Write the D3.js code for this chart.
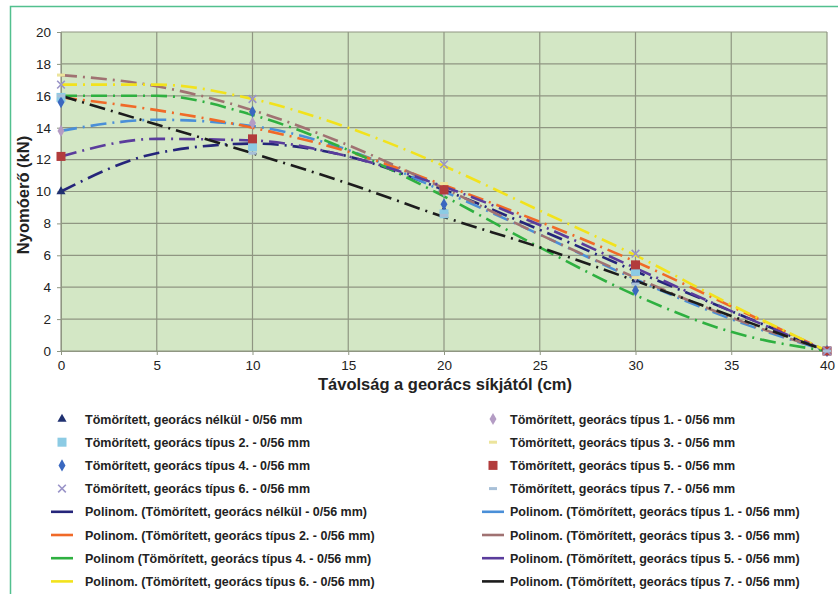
<!DOCTYPE html>
<html>
<head>
<meta charset="utf-8">
<script src="https://cdn.jsdelivr.net/npm/d3@7"></script>
<style>
  body { margin: 0; background: #fff; }
  svg text { font-family: "Liberation Sans", Arial, sans-serif; fill: #222; }
</style>
</head>
<body>
<div id="container"></div>
<script>
// measured points (every 10 cm)
const xPoints = [0, 10, 20, 30, 40]
const pNelkul = [10.0, 13.0, 8.8, 4.4, 0]
const pT1 = [13.8, 14.3, 10.0, 4.7, 0]
const pT2 = [15.9, 12.8, 8.6, 5.0, 0]
const pT3 = [17.3, 15.0, 10.5, 4.6, 0]
const pT4 = [15.6, 15.0, 9.2, 3.8, 0]
const pT5 = [12.2, 13.3, 10.1, 5.4, 0]
const pT6 = [16.7, 15.8, 11.7, 6.1, 0]
const pT7 = [16.0, 12.4, 8.5, 4.2, 0]

const xTrend = [0, 5, 10, 15, 20, 25, 30, 35, 40]
const tNelkul = [10.0, 12.4, 13.0, 12.2, 10.1, 7.6, 5.0, 2.5, 0]
const tT1 = [13.8, 14.5, 14.1, 12.6, 10.0, 7.3, 4.5, 2.0, 0]
const tT2 = [15.9, 15.1, 14.0, 12.5, 10.4, 8.1, 5.6, 2.8, 0]
const tT3 = [17.3, 16.6, 15.1, 12.9, 10.2, 7.3, 4.6, 2.1, 0]
const tT4 = [16.0, 16.0, 14.8, 12.6, 9.7, 6.5, 3.5, 1.2, 0]
const tT5 = [12.2, 13.3, 13.2, 12.2, 10.3, 7.9, 5.2, 2.5, 0]
const tT6 = [16.7, 16.7, 15.8, 14.0, 11.6, 8.8, 6.0, 2.9, 0]
const tT7 = [16.0, 14.2, 12.4, 10.5, 8.4, 6.5, 4.4, 2.2, 0]

const xTicks = [0, 5, 10, 15, 20, 25, 30, 35, 40]
const yTicks = [0, 2, 4, 6, 8, 10, 12, 14, 16, 18, 20]

const pointSeries = [
	{ name: "Tömörített, georács nélkül - 0/56 mm", values: pNelkul, shape: "triangle", color: "#1f3070", col: 0, row: 0 },
	{ name: "Tömörített, georács típus 1. - 0/56 mm", values: pT1, shape: "diamond", color: "#b49cc4", col: 1, row: 0 },
	{ name: "Tömörített, georács típus 2. - 0/56 mm", values: pT2, shape: "square", color: "#8ccbe4", col: 0, row: 1 },
	{ name: "Tömörített, georács típus 3. - 0/56 mm", values: pT3, shape: "dash", color: "#ece49c", col: 1, row: 1 },
	{ name: "Tömörített, georács típus 4. - 0/56 mm", values: pT4, shape: "diamond", color: "#3a68c0", col: 0, row: 2 },
	{ name: "Tömörített, georács típus 5. - 0/56 mm", values: pT5, shape: "square", color: "#b23c3c", col: 1, row: 2 },
	{ name: "Tömörített, georács típus 6. - 0/56 mm", values: pT6, shape: "cross", color: "#9a94c8", col: 0, row: 3 },
	{ name: "Tömörített, georács típus 7. - 0/56 mm", values: pT7, shape: "dash", color: "#a8c0d8", col: 1, row: 3 },
]

const trendSeries = [
	{ name: "Polinom. (Tömörített, georács nélkül - 0/56 mm)", values: tNelkul, color: "#25257a", col: 0, row: 4 },
	{ name: "Polinom. (Tömörített, georács típus 1. - 0/56 mm)", values: tT1, color: "#4a8fd8", col: 1, row: 4 },
	{ name: "Polinom. (Tömörített, georács típus 2. - 0/56 mm)", values: tT2, color: "#f06a28", col: 0, row: 5 },
	{ name: "Polinom. (Tömörített, georács típus 3. - 0/56 mm)", values: tT3, color: "#a07272", col: 1, row: 5 },
	{ name: "Polinom (Tömörített, georács típus 4. - 0/56 mm)", values: tT4, color: "#2eb040", col: 0, row: 6 },
	{ name: "Polinom. (Tömörített, georács típus 5. - 0/56 mm)", values: tT5, color: "#5a3c9c", col: 1, row: 6 },
	{ name: "Polinom. (Tömörített, georács típus 6. - 0/56 mm)", values: tT6, color: "#f2e21c", col: 0, row: 7 },
	{ name: "Polinom. (Tömörített, georács típus 7. - 0/56 mm)", values: tT7, color: "#1c1c1c", col: 1, row: 7 },
]

const width = 838
const height = 594
const plot = { left: 61, right: 827, top: 32, bottom: 351 }

const svg = d3.select("#container")
	.append("svg")
	.attr("width", width)
	.attr("height", height)

// outer frame
svg.append("path")
	.attr("d", `M10.5,${height} V6.5 H${width}`)
	.attr("fill", "none")
	.attr("stroke", "#52c08e")
	.attr("stroke-width", 1.5)

const x = d3.scaleLinear().domain([0, 40]).range([plot.left, plot.right])
const y = d3.scaleLinear().domain([0, 20]).range([plot.bottom, plot.top])

// plot background
svg.append("rect")
	.attr("x", plot.left)
	.attr("y", plot.top)
	.attr("width", plot.right - plot.left)
	.attr("height", plot.bottom - plot.top)
	.attr("fill", "#d3e7c5")

// grid
const grid = svg.append("g")
grid.selectAll(".hg").data(yTicks).join("line")
	.attr("x1", plot.left).attr("x2", plot.right)
	.attr("y1", d => y(d)).attr("y2", d => y(d))
	.attr("stroke", "#8f9682").attr("stroke-width", 1.2)
grid.selectAll(".vg").data(xTicks).join("line")
	.attr("x1", d => x(d)).attr("x2", d => x(d))
	.attr("y1", plot.top).attr("y2", plot.bottom)
	.attr("stroke", "#8f9682").attr("stroke-width", 1.2)

// axes
const xAxis = svg.append("g")
	.attr("transform", `translate(0,${plot.bottom})`)
	.call(d3.axisBottom(x).tickValues(xTicks).tickSize(4).tickPadding(5))
const yAxis = svg.append("g")
	.attr("transform", `translate(${plot.left},0)`)
	.call(d3.axisLeft(y).tickValues(yTicks).tickSize(4).tickPadding(6))
for (const ax of [xAxis, yAxis]) {
	ax.select(".domain").attr("stroke", "#8f9682")
	ax.selectAll(".tick line").attr("stroke", "#8f9682")
	ax.selectAll("text").attr("font-size", 13.5).attr("fill", "#222")
		.attr("font-family", "Liberation Sans, Arial, sans-serif")
}

// axis titles
svg.append("text")
	.attr("x", 445).attr("y", 390)
	.attr("text-anchor", "middle")
	.attr("font-size", 16.5).attr("font-weight", "bold")
	.text("Távolság a georács síkjától (cm)")
svg.append("text")
	.attr("transform", "translate(29,195) rotate(-90)")
	.attr("text-anchor", "middle")
	.attr("font-size", 16.5).attr("font-weight", "bold")
	.text("Nyomóerő (kN)")

// trend lines
const line = d3.line()
	.x((d, i) => x(xTrend[i]))
	.y(d => y(d))
	.curve(d3.curveMonotoneX)

svg.append("g").selectAll("path").data(trendSeries).join("path")
	.attr("d", d => line(d.values))
	.attr("fill", "none")
	.attr("stroke", d => d.color)
	.attr("stroke-width", 2.6)
	.attr("stroke-dasharray", "16,6,2,6")

// markers
function drawMarker(g, shape, color, cx, cy) {
	if (shape === "triangle") {
		g.append("path").attr("d", d3.symbol(d3.symbolTriangle, 36)())
			.attr("transform", `translate(${cx},${cy})`).attr("fill", color)
	} else if (shape === "diamond") {
		g.append("path").attr("d", d3.symbol(d3.symbolDiamond, 42)())
			.attr("transform", `translate(${cx},${cy})`).attr("fill", color)
	} else if (shape === "square") {
		g.append("rect").attr("x", cx - 4.5).attr("y", cy - 4.5)
			.attr("width", 9).attr("height", 9).attr("fill", color)
	} else if (shape === "cross") {
		g.append("path").attr("d", d3.symbol(d3.symbolX, 40)())
			.attr("transform", `translate(${cx},${cy})`)
			.attr("stroke", color).attr("stroke-width", 1.6).attr("fill", "none")
	} else {
		g.append("rect").attr("x", cx - 4).attr("y", cy - 1.5)
			.attr("width", 8).attr("height", 3).attr("fill", color)
	}
}

const marks = svg.append("g")
pointSeries.forEach(s => {
	s.values.forEach((v, i) => drawMarker(marks, s.shape, s.color, x(xPoints[i]), y(v)))
})

// legend
const legend = svg.append("g")
const rowY = r => 419 + r * 23.2
const colMark = [62, 493]
const colText = [85, 510]

pointSeries.forEach(s => {
	drawMarker(legend, s.shape, s.color, colMark[s.col], rowY(s.row))
	legend.append("text")
		.attr("x", colText[s.col]).attr("y", rowY(s.row) + 4.5)
		.attr("font-size", 12.5).attr("font-weight", "bold")
		.text(s.name)
})
trendSeries.forEach(s => {
	legend.append("line")
		.attr("x1", colMark[s.col] - 11).attr("x2", colMark[s.col] + 11)
		.attr("y1", rowY(s.row)).attr("y2", rowY(s.row))
		.attr("stroke", s.color).attr("stroke-width", 2.6)
	legend.append("text")
		.attr("x", colText[s.col]).attr("y", rowY(s.row) + 4.5)
		.attr("font-size", 12.5).attr("font-weight", "bold")
		.text(s.name)
})
</script>
</body>
</html>
